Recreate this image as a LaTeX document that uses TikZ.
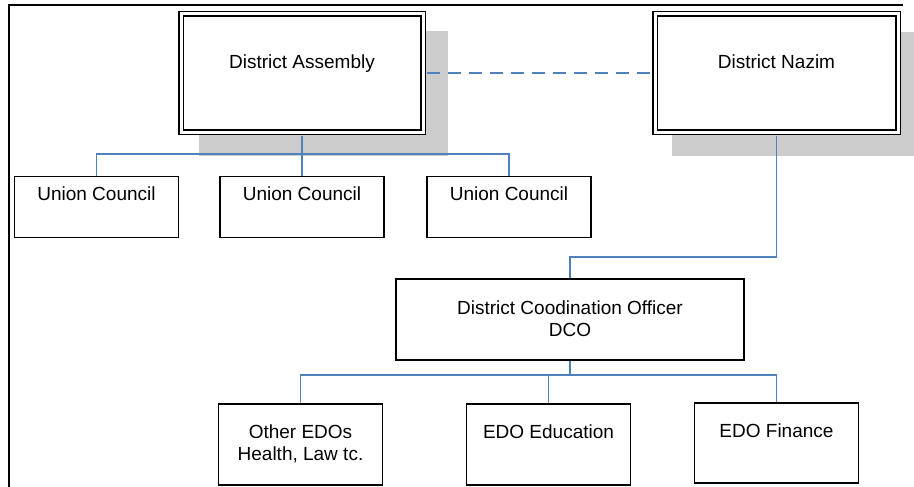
\documentclass[tikz,border=0pt]{standalone}
\usepackage{fontspec}
\setmainfont{Liberation Sans}
\usetikzlibrary{calc}
\definecolor{connblue}{HTML}{4F81BD}
\definecolor{shadowc}{HTML}{CCCCCC}
\begin{document}
\begin{tikzpicture}[x=1pt,y=-1pt,
  dblbox/.style={draw, fill=white, double, line width=1.5pt, double distance=3pt, inner sep=0pt, minimum width=242pt, minimum height=118pt},
  plainbox/.style={draw, fill=white, line width=1.7pt, inner sep=0pt},
  ucbox/.style={plainbox, minimum width=164pt, minimum height=61pt},
  edobox/.style={plainbox, minimum width=164pt, minimum height=81pt},
  conn/.style={draw=connblue, line width=1.6pt},
  lbl/.style={anchor=base, inner sep=0pt, font=\fontsize{19}{22}\selectfont}]
\useasboundingbox (0,0) rectangle (914,487);
% frame
\draw[line width=2pt] (9,488) -- (9,5) -- (903,5);
% shadows
\fill[shadowc] (199,31) rectangle (448,156);
\fill[shadowc] (672,32) rectangle (922,156);
% boxes
\node[dblbox] (DA) at (302,73) {};
\node[dblbox, minimum width=243pt] (DN) at (776.5,73) {};
\node[ucbox] (UC1) at (96.5,207) {};
\node[ucbox] (UC2) at (302,207) {};
\node[ucbox] (UC3) at (509,207) {};
\node[plainbox, minimum width=348pt, minimum height=81pt] (DCO) at (570,319.5) {};
\node[edobox] (OE) at (300.5,444.5) {};
\node[edobox] (EE) at (548.5,444.5) {};
\node[edobox, minimum height=80pt] (EF) at (776.5,443) {};
% connectors
\coordinate (busA) at ([yshift=21.5pt]UC2.north);
\draw[conn] (UC1.north) |- (busA) -| (UC3.north);
\draw[conn] ([yshift=-3pt]DA.south) -- (UC2.north);
\draw[conn, dash pattern=on 13pt off 8pt] ([xshift=3pt]DA.east) -- ([xshift=-3pt]DN.west);
\draw[conn] ([yshift=-3pt]DN.south) |- ([yshift=21pt]DCO.north) -- (DCO.north);
\coordinate (busB) at ([yshift=28pt]EE.north);
\draw[conn] (OE.north) |- (busB) -| (EF.north);
\draw[conn] (EE.north) -- (busB);
\draw[conn] (DCO.south) -- (DCO.south |- busB);
% labels
\node[lbl] (tDA) at ([yshift=-55pt]DA.north) {District Assembly};
\node[lbl] (tDN) at ([yshift=-55pt]DN.north) {District Nazim};
\node[lbl] (tU1) at ([yshift=-24.5pt]UC1.north) {Union Council};
\node[lbl] (tU2) at ([yshift=-24.5pt]UC2.north) {Union Council};
\node[lbl] (tU3) at ([yshift=-24.5pt]UC3.north) {Union Council};
\node[lbl] (tD1) at ([yshift=-36pt]DCO.north) {District Coodination Officer};
\node[lbl] (tD2) at ([yshift=-58pt]DCO.north) {DCO};
\node[lbl] (tO1) at ([yshift=-35pt]OE.north) {Other EDOs};
\node[lbl] (tO2) at ([yshift=-57.5pt]OE.north) {Health, Law tc.};
\node[lbl] (tE) at ([yshift=-35pt]EE.north) {EDO Education};
\node[lbl] (tF) at ([yshift=-35pt]EF.north) {EDO Finance};
\end{tikzpicture}
\end{document}
